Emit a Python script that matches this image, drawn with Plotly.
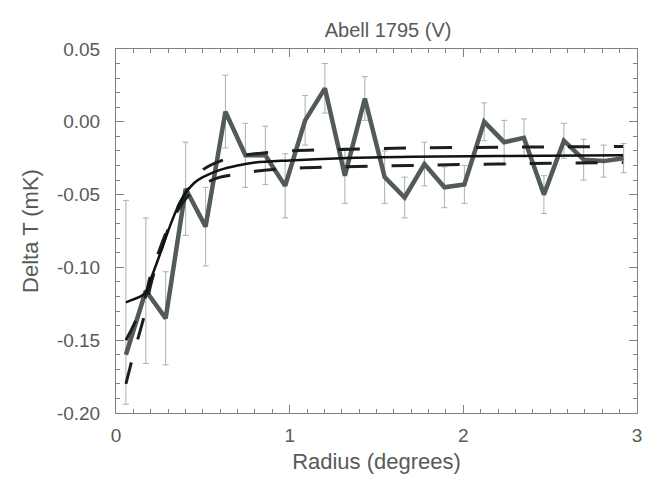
import plotly.graph_objects as go

# Radial profile of the temperature decrement, Abell 1795 (V band)
radius = [0.057, 0.172, 0.286, 0.401, 0.516, 0.630, 0.745, 0.860, 0.974, 1.089,
          1.203, 1.318, 1.433, 1.547, 1.662, 1.776, 1.891, 2.006, 2.120, 2.235,
          2.349, 2.464, 2.579, 2.693, 2.808, 2.923]
delta_t = [-0.160, -0.116, -0.135, -0.046, -0.072, 0.007, -0.023, -0.023, -0.044, 0.001,
           0.023, -0.037, 0.016, -0.038, -0.052, -0.029, -0.045, -0.043, 0.000, -0.014,
           -0.011, -0.050, -0.013, -0.026, -0.027, -0.025]
err_up = [0.106, 0.050, 0.032, 0.032, 0.027, 0.025, 0.022, 0.020, 0.022, 0.017,
          0.017, 0.019, 0.015, 0.018, 0.014, 0.015, 0.014, 0.013, 0.013, 0.015,
          0.013, 0.013, 0.012, 0.014, 0.011, 0.010]
err_down = [0.034, 0.050, 0.032, 0.032, 0.027, 0.025, 0.022, 0.020, 0.022, 0.017,
            0.017, 0.019, 0.015, 0.018, 0.014, 0.015, 0.014, 0.013, 0.013, 0.015,
            0.013, 0.013, 0.012, 0.014, 0.011, 0.010]

# Model curves (best fit and the two bounding fits)
fit_r = [0.057, 0.10, 0.165, 0.20, 0.25, 0.30, 0.35, 0.40, 0.45, 0.50,
         0.60, 0.70, 0.80, 1.00, 1.30, 1.70, 2.20, 2.92]
fit_best = [-0.124, -0.122, -0.118, -0.108, -0.092, -0.075, -0.060, -0.049, -0.042, -0.038,
            -0.033, -0.030, -0.028, -0.0265, -0.025, -0.024, -0.0235, -0.023]
fit_upper = [-0.180, -0.160, -0.132, -0.112, -0.092, -0.074, -0.060, -0.049, -0.040, -0.033,
             -0.027, -0.024, -0.022, -0.020, -0.019, -0.018, -0.0175, -0.017]
fit_lower = [-0.150, -0.140, -0.122, -0.105, -0.088, -0.073, -0.062, -0.053, -0.047, -0.043,
             -0.038, -0.036, -0.034, -0.032, -0.031, -0.030, -0.029, -0.028]

y_ticks = [0.05, 0.00, -0.05, -0.10, -0.15, -0.20]
y_tick_text = ["0.05", "0.00", "-0.05", "-0.10", "-0.15", "-0.20"]
x_ticks = [0, 1, 2, 3]
x_tick_text = ["0", "1", "2", "3"]

text_color = "#575b57"
frame_color = "#7d827d"
font = "Liberation Sans, Arial, sans-serif"

fig = go.Figure()

fig.add_trace(go.Scatter(
    x=radius, y=delta_t, mode="lines",
    line=dict(color="#525b55", width=4.5),
    error_y=dict(type="data", symmetric=False, array=err_up, arrayminus=err_down,
                 color="#aab0aa", thickness=1, width=3),
    showlegend=False,
))

for curve in (fit_upper, fit_lower):
    fig.add_trace(go.Scatter(
        x=fit_r, y=curve, mode="lines",
        line=dict(color="#1c1f1c", width=3, dash="22px,24px", shape="spline"),
        showlegend=False,
    ))

fig.add_trace(go.Scatter(
    x=fit_r, y=fit_best, mode="lines",
    line=dict(color="#111311", width=2.5, shape="spline"),
    showlegend=False,
))

axis_common = dict(
    showline=True, linecolor=frame_color, linewidth=1, mirror="ticks",
    ticks="inside", tickcolor=frame_color, ticklen=8, tickwidth=1,
    showgrid=False, zeroline=False,
    tickfont=dict(family=font, size=19, color=text_color),
)

fig.update_layout(
    width=650, height=477,
    margin=dict(l=116, r=8, t=49, b=64),
    paper_bgcolor="white", plot_bgcolor="white",
    title=dict(text="Abell 1795 (V)", x=0.597, xanchor="center", y=0.937, yanchor="middle",
               font=dict(family=font, size=20, color=text_color)),
    xaxis=dict(
        range=[0, 3], tickvals=x_ticks, ticktext=x_tick_text, ticklabelstandoff=5,
        minor=dict(dtick=0.1, ticks="inside", ticklen=4, tickcolor=frame_color),
        title=dict(text="Radius (degrees)", standoff=8,
                   font=dict(family=font, size=22, color=text_color)),
        **axis_common,
    ),
    yaxis=dict(
        range=[-0.20, 0.05], tickvals=y_ticks, ticktext=y_tick_text, ticklabelstandoff=11,
        minor=dict(dtick=0.01, ticks="inside", ticklen=4, tickcolor=frame_color),
        title=dict(text="Delta T (mK)", standoff=12,
                   font=dict(family=font, size=22, color=text_color)),
        **axis_common,
    ),
)

fig.write_html("out.html")
